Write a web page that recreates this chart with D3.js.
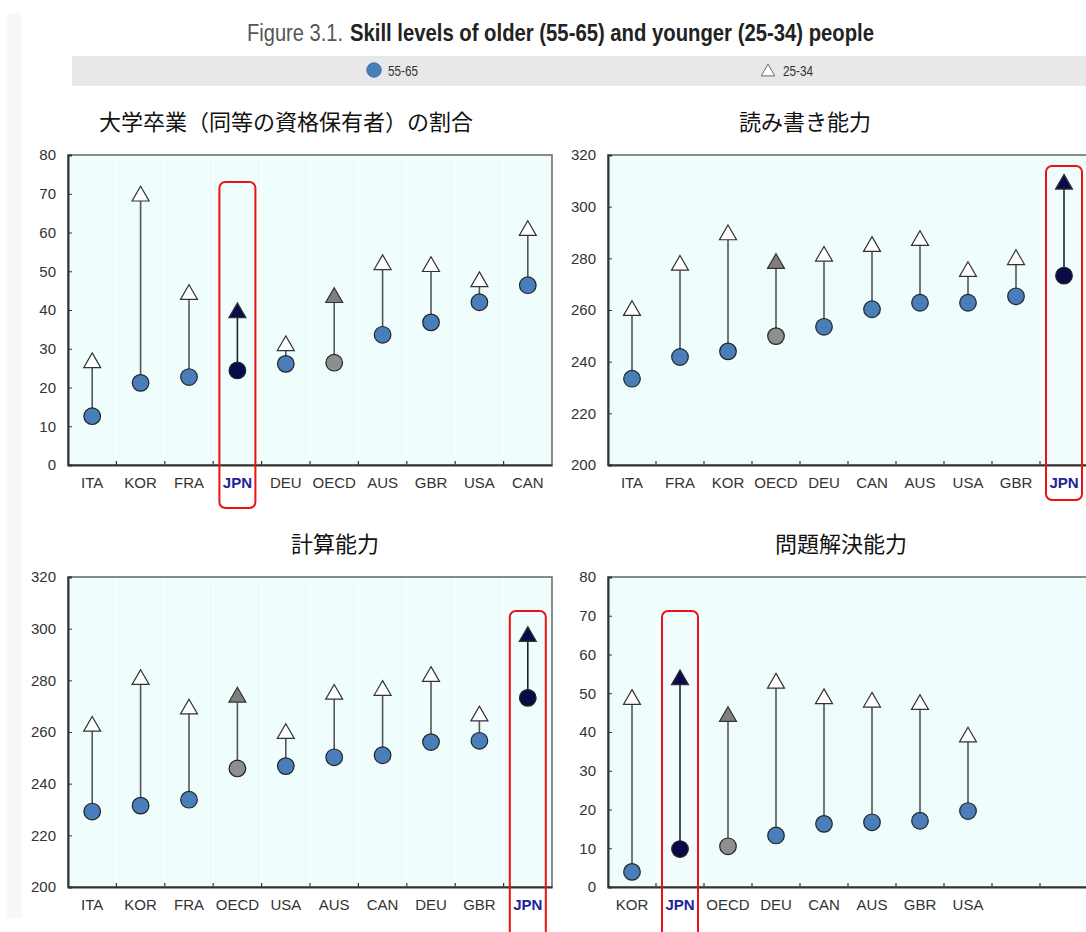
<!DOCTYPE html>
<html><head><meta charset="utf-8">
<script src="https://cdn.jsdelivr.net/npm/d3@7"></script>
<style>
body{margin:0;background:#fff;}
svg{display:block;}
.tk{font-family:"Liberation Sans Narrow","Liberation Sans",Arial,sans-serif;font-size:15px;}
</style></head>
<body>
<script>
// ---------------- DATA ----------------
const figureLabel = "Figure 3.1.";
const figureTitle = "Skill levels of older (55-65) and younger (25-34) people";
const legendLabels = ["55-65", "25-34"];

const titleA = "大学卒業（同等の資格保有者）の割合";
const catsA = ["ITA","KOR","FRA","JPN","DEU","OECD","AUS","GBR","USA","CAN"];
const olderA = [12.6, 21.2, 22.7, 24.4, 26.1, 26.4, 33.6, 36.8, 42.0, 46.4];
const youngerA = [26.4, 69.4, 44.0, 39.3, 30.8, 43.2, 51.7, 51.2, 47.3, 60.5];
const ticksA = [0,10,20,30,40,50,60,70,80];

const titleB = "読み書き能力";
const catsB = ["ITA","FRA","KOR","OECD","DEU","CAN","AUS","USA","GBR","JPN"];
const olderB = [233.4, 241.8, 244.0, 249.9, 253.5, 260.3, 262.8, 262.8, 265.3, 273.3];
const youngerB = [259.8, 277.3, 289.1, 278.0, 280.8, 284.6, 286.9, 274.9, 279.5, 308.7];
const ticksB = [200,220,240,260,280,300,320];

const titleC = "計算能力";
const catsC = ["ITA","KOR","FRA","OECD","USA","AUS","CAN","DEU","GBR","JPN"];
const olderC = [229.2, 231.5, 233.8, 245.9, 246.8, 250.2, 251.0, 256.1, 256.6, 273.2];
const youngerC = [262.2, 280.3, 268.9, 273.5, 259.4, 274.6, 276.1, 281.5, 266.2, 297.0];
const ticksC = [200,220,240,260,280,300,320];

const titleD = "問題解決能力";
const catsD = ["KOR","JPN","OECD","DEU","CAN","AUS","GBR","USA","",""];
const olderD = [3.9, 9.8, 10.5, 13.3, 16.3, 16.7, 17.1, 19.6];
const youngerD = [48.4, 53.5, 44.0, 52.6, 48.6, 47.7, 47.1, 38.7];
const ticksD = [0,10,20,30,40,50,60,70,80];

const highlight = "JPN";
const average = "OECD";

// ---------------- DRAW ----------------
const W = 1086, H = 932;
const svg = d3.select("body").append("svg").attr("width", W).attr("height", H);

// faint page strip at left
svg.append("rect").attr("x", 7).attr("y", 13).attr("width", 15).attr("height", 905).attr("fill", "#f7f8fa");

// Title (two separate texts)
const titleFont = '"Liberation Sans Narrow","Liberation Sans",Arial,sans-serif';
svg.append("text").attr("x", 247).attr("y", 41)
  .attr("textLength", 96).attr("lengthAdjust", "spacingAndGlyphs")
  .style("font-family", titleFont).style("font-size", "23px").style("fill", "#555")
  .text(figureLabel);
svg.append("text").attr("x", 350).attr("y", 41)
  .attr("textLength", 524).attr("lengthAdjust", "spacingAndGlyphs")
  .style("font-family", titleFont).style("font-size", "23px").style("font-weight", "bold").style("fill", "#222")
  .text(figureTitle);

// Legend bar
svg.append("rect").attr("x", 72).attr("y", 56).attr("width", W - 72).attr("height", 30).attr("fill", "#e8e8e8");
svg.append("circle").attr("cx", 374).attr("cy", 70).attr("r", 7.2).attr("fill", "#4a7ebb").attr("stroke", "#3a6aa8").attr("stroke-width", 1);
svg.append("text").attr("class", "tk").attr("x", 388).attr("y", 76).style("font-size", "14px").style("fill", "#333")
  .attr("textLength", 30).attr("lengthAdjust", "spacingAndGlyphs").text(legendLabels[0]);
svg.append("path").attr("d", d3.symbol(d3.symbolTriangle, 80)())
  .attr("transform", "translate(768,72)").attr("fill", "#fff").attr("stroke", "#666").attr("stroke-width", 1);
svg.append("text").attr("class", "tk").attr("x", 783).attr("y", 76).style("font-size", "14px").style("fill", "#333")
  .attr("textLength", 30).attr("lengthAdjust", "spacingAndGlyphs").text(legendLabels[1]);

function panel(opts) {
  const {x0, y0, w, h, cats, older, younger, ticks, title, titleX} = opts;
  const g = svg.append("g");
  const x = d3.scaleBand().domain(cats.map((c, i) => i)).range([x0, x0 + w]);
  const y = d3.scaleLinear().domain([ticks[0], ticks[ticks.length - 1]]).range([y0 + h, y0]);

  svg.append("text").attr("x", titleX).attr("y", y0 - 25).attr("text-anchor", "middle")
    .style("font-family", '"Noto Sans CJK JP",sans-serif').style("font-size", opts.titleSize + "px").style("fill", "#111")
    .text(title);

  g.append("rect").attr("x", x0).attr("y", y0).attr("width", w).attr("height", h)
    .attr("fill", "#effdfd").attr("stroke", "#666").attr("stroke-width", 1.5);

  // faint vertical grid at band boundaries
  g.selectAll("line.vg").data(cats.slice(1)).enter().append("line")
    .attr("x1", (d, i) => x(i + 1)).attr("x2", (d, i) => x(i + 1))
    .attr("y1", y0 + 1).attr("y2", y0 + h).attr("stroke", "#ffffff").attr("stroke-width", 1.2);

  // y axis
  const ya = g.append("g").attr("transform", `translate(${x0},0)`)
    .call(d3.axisLeft(y).tickValues(ticks).tickSize(-4).tickPadding(12).tickFormat(d3.format("d")));
  ya.select(".domain").attr("stroke", "#333").attr("stroke-width", 2);
  ya.selectAll(".tick line").attr("stroke", "#333");
  ya.selectAll("text").attr("class", "tk").style("fill", "#333");

  // x axis
  const xa = g.append("g").attr("transform", `translate(0,${y0 + h})`)
    .call(d3.axisBottom(x).tickSize(0).tickPadding(12).tickFormat(i => cats[i]));
  xa.select(".domain").attr("stroke", "#333").attr("stroke-width", 2);
  xa.selectAll("text").attr("class", "tk")
    .style("fill", i => cats[i] === highlight ? "#22229a" : "#333")
    .style("font-weight", i => cats[i] === highlight ? "bold" : null);
  // boundary ticks (inward)
  g.selectAll("line.bt").data(cats.slice(1)).enter().append("line")
    .attr("x1", (d, i) => x(i + 1)).attr("x2", (d, i) => x(i + 1))
    .attr("y1", y0 + h).attr("y2", y0 + h - 4).attr("stroke", "#333").attr("stroke-width", 1.2);

  const cx = i => x(i) + x.bandwidth() / 2;
  const idx = older.map((d, i) => i);

  // connectors
  g.selectAll("line.cn").data(idx).enter().append("line")
    .attr("x1", cx).attr("x2", cx)
    .attr("y1", i => y(older[i])).attr("y2", i => y(younger[i]))
    .attr("stroke", i => cats[i] === highlight ? "#222" : "#555").attr("stroke-width", 1.6);

  const fillOld = i => cats[i] === highlight ? "#0a0a4a" : cats[i] === average ? "#8e8e8e" : "#4a7ebb";
  const fillYoung = i => cats[i] === highlight ? "#0a0a4a" : cats[i] === average ? "#7f7f7f" : "#ffffff";

  g.selectAll("path.tri").data(idx).enter().append("path")
    .attr("d", d3.symbol(d3.symbolTriangle, 125)())
    .attr("transform", i => `translate(${cx(i)},${y(younger[i])})`)
    .attr("fill", fillYoung).attr("stroke", "#333").attr("stroke-width", 1.2);

  g.selectAll("circle.old").data(idx).enter().append("circle")
    .attr("cx", cx).attr("cy", i => y(older[i])).attr("r", 8.3)
    .attr("fill", fillOld).attr("stroke", "#222").attr("stroke-width", 1.2);

  // highlight box
  const hi = cats.indexOf(highlight);
  g.append("rect").attr("x", cx(hi) - 18).attr("width", 36)
    .attr("y", opts.boxTop).attr("height", opts.boxBottom - opts.boxTop)
    .attr("rx", 6).attr("fill", "none").attr("stroke", "#ee1111").attr("stroke-width", 2);
}

panel({x0: 68, y0: 155, w: 484, h: 310, cats: catsA, older: olderA, younger: youngerA, ticks: ticksA,
       title: titleA, titleX: 286, titleSize: 22, boxTop: 182, boxBottom: 508});
panel({x0: 608, y0: 155, w: 480, h: 310, cats: catsB, older: olderB, younger: youngerB, ticks: ticksB,
       title: titleB, titleX: 805, titleSize: 22, boxTop: 166, boxBottom: 500});
panel({x0: 68, y0: 577, w: 484, h: 310, cats: catsC, older: olderC, younger: youngerC, ticks: ticksC,
       title: titleC, titleX: 335, titleSize: 22, boxTop: 611, boxBottom: 945});
panel({x0: 608, y0: 577, w: 480, h: 310, cats: catsD, older: olderD, younger: youngerD, ticks: ticksD,
       title: titleD, titleX: 841, titleSize: 22, boxTop: 611, boxBottom: 945});
</script>
</body></html>
